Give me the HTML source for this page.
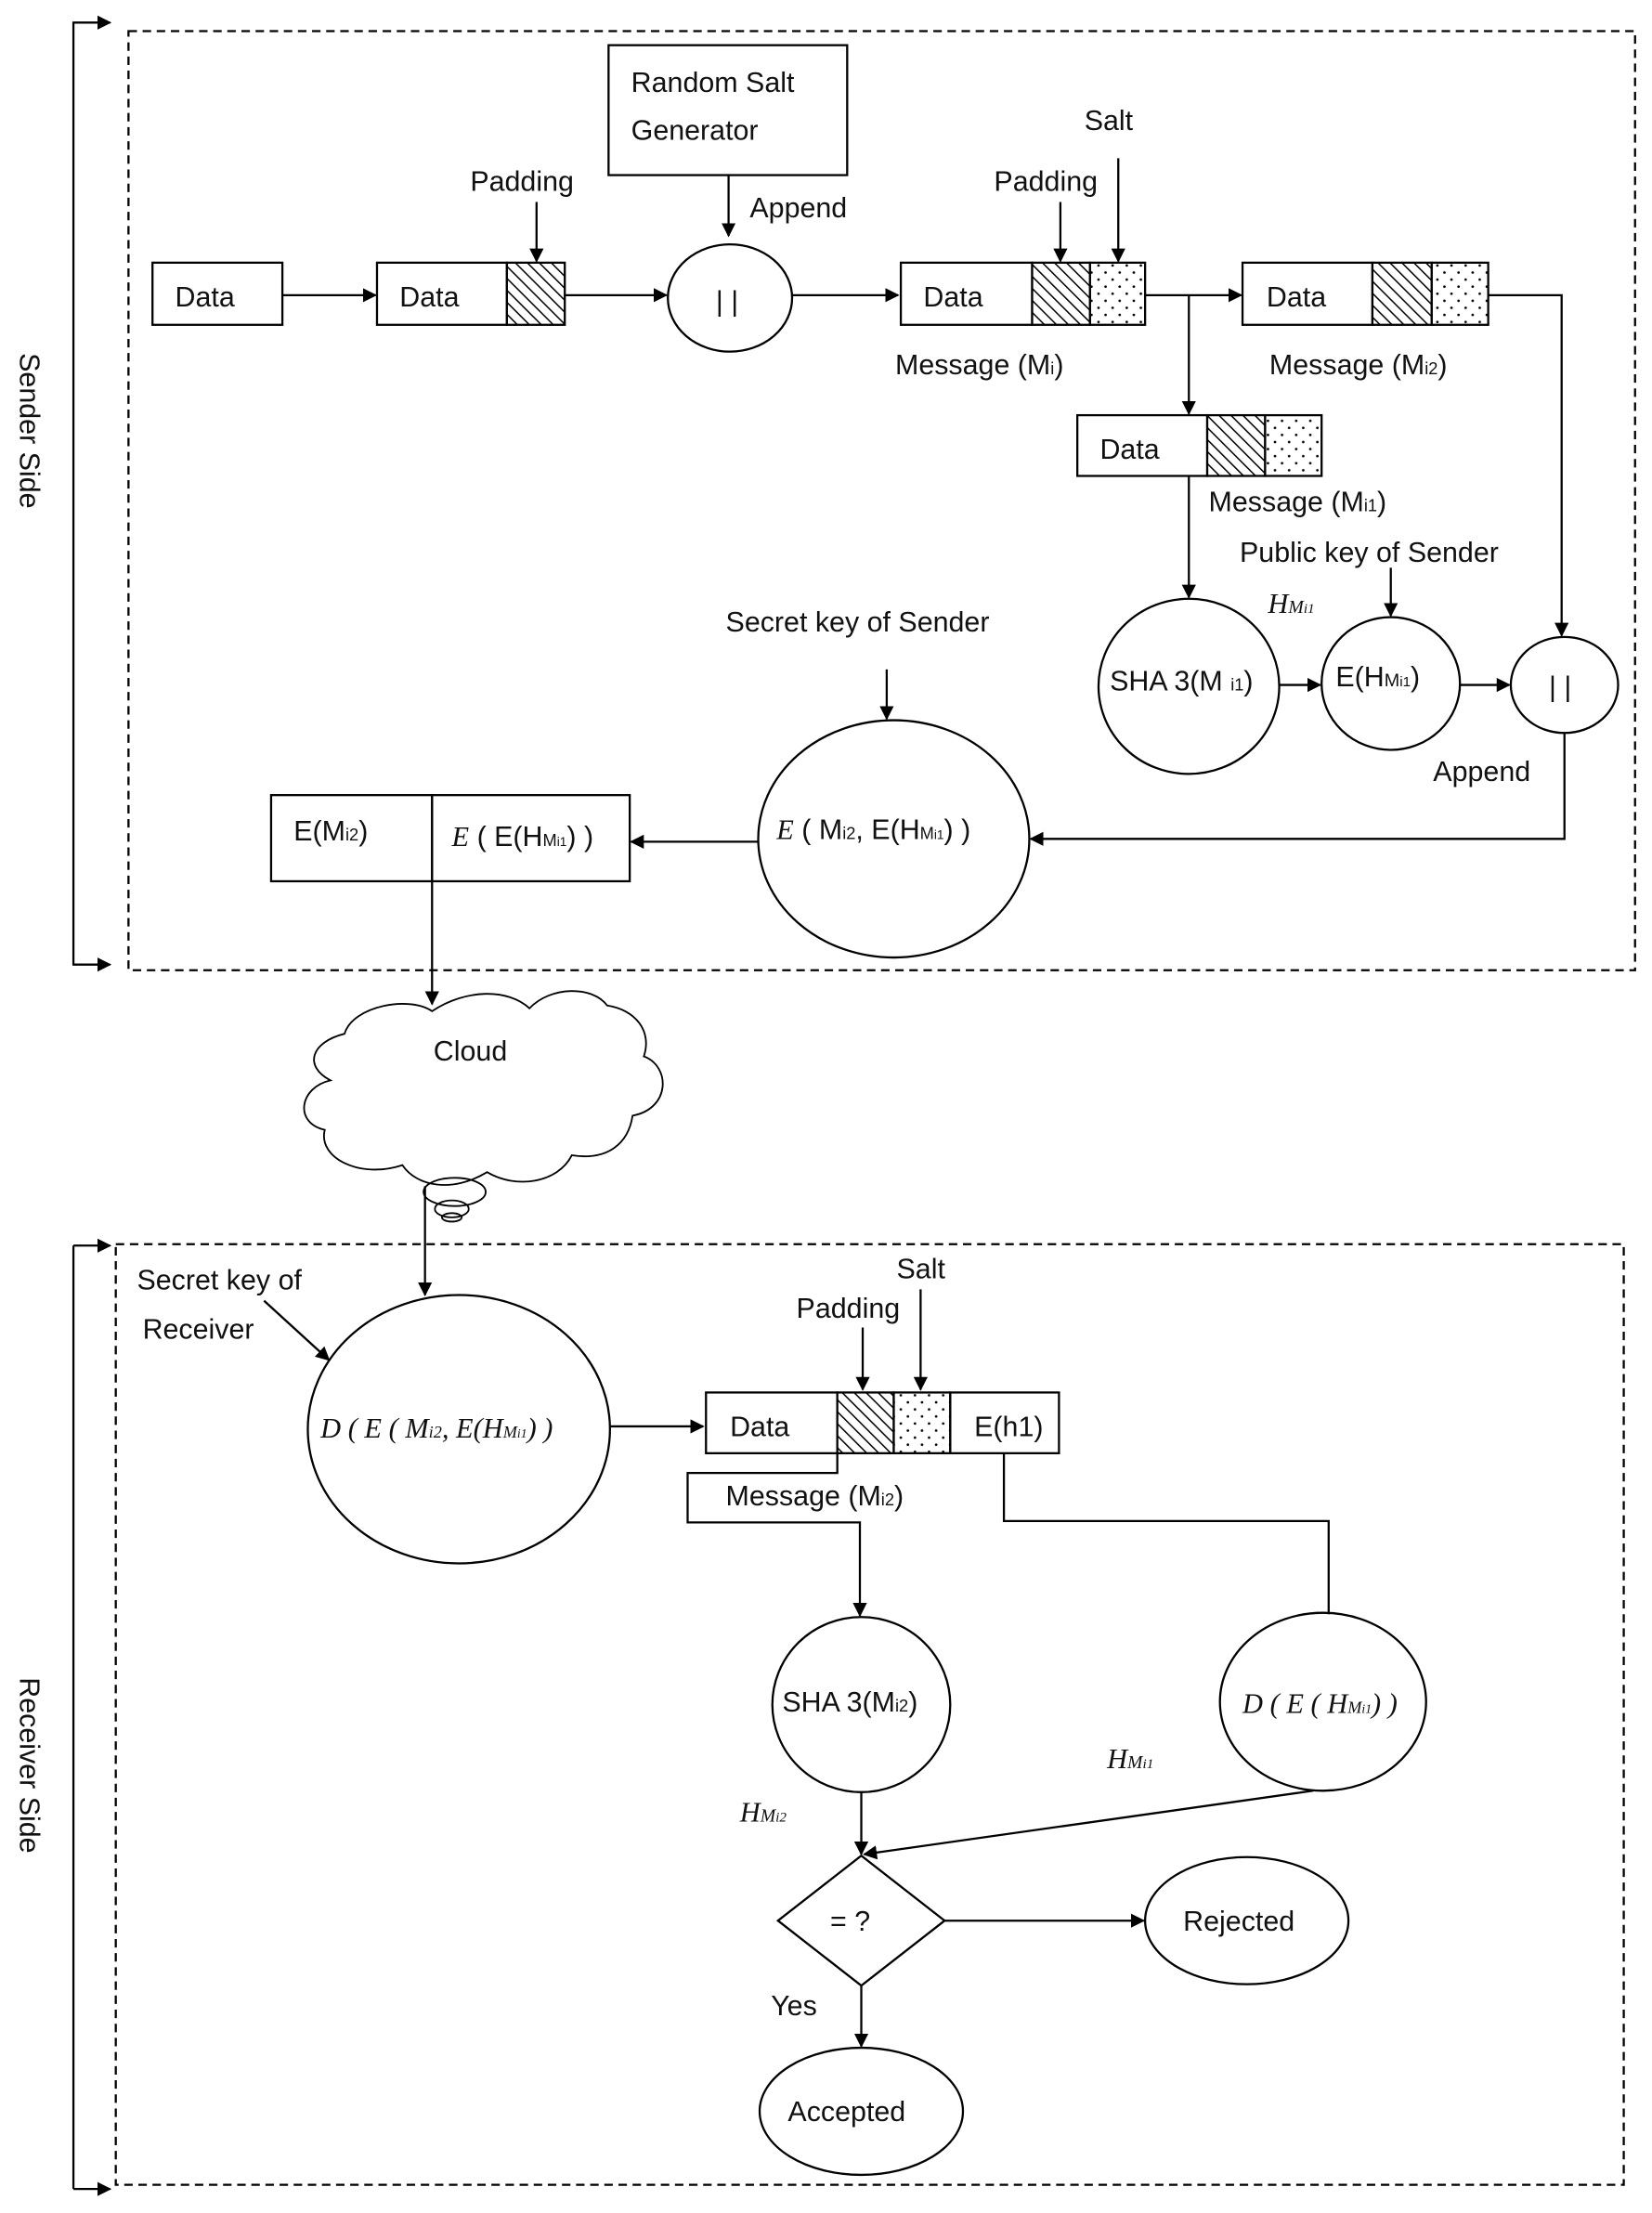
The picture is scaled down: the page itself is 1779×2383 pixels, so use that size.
<!DOCTYPE html>
<html><head><meta charset="utf-8"><style>
html,body{margin:0;padding:0;background:#fff}
svg{display:block}
text{font-family:"Liberation Sans",sans-serif;font-size:20px;fill:#111}
.m{font-family:"Liberation Serif",serif;font-style:italic}
</style></head><body>
<svg width="1779" height="2383" viewBox="0 0 1170 1567" preserveAspectRatio="none" xmlns="http://www.w3.org/2000/svg">
<defs>
<pattern id="h" width="6" height="6" patternUnits="userSpaceOnUse" patternTransform="rotate(-45)"><rect width="6" height="6" fill="#fff"/><line x1="0" y1="0" x2="0" y2="6" stroke="#000" stroke-width="2"/></pattern>
<pattern id="d" width="10" height="10" patternUnits="userSpaceOnUse"><rect width="10" height="10" fill="#fff"/><circle cx="3" cy="3" r="0.9" fill="#000"/><circle cx="8" cy="8" r="0.9" fill="#000"/></pattern>
<marker id="a" markerWidth="10" markerHeight="10" refX="9" refY="5" orient="auto" markerUnits="userSpaceOnUse"><path d="M0,0 L10,5 L0,10 z" fill="#000"/></marker>
</defs>
<g fill="none" stroke="#000" stroke-width="1.5">
<rect x="91" y="22" width="1067" height="665" stroke-dasharray="6,4"/>
<rect x="82" y="881" width="1068" height="666" stroke-dasharray="6,4"/>
<path d="M70,16 H52 V683 H70" />
<path d="M52,16 H78" marker-end="url(#a)"/><path d="M52,683 H78" marker-end="url(#a)"/>
<path d="M52,882 V1550"/><path d="M52,882 H78" marker-end="url(#a)"/><path d="M52,1550 H78" marker-end="url(#a)"/>
<rect x="108" y="186" width="92" height="44"/>
<rect x="267" y="186" width="92" height="44"/><rect x="359" y="186" width="41" height="44" fill="url(#h)"/>
<rect x="431" y="32" width="169" height="92"/>
<ellipse cx="517" cy="211" rx="44" ry="38"/>
<rect x="638" y="186" width="93" height="44"/><rect x="731" y="186" width="41" height="44" fill="url(#h)"/><rect x="772" y="186" width="39" height="44" fill="url(#d)"/>
<rect x="880" y="186" width="92" height="44"/><rect x="972" y="186" width="42" height="44" fill="url(#h)"/><rect x="1014" y="186" width="40" height="44" fill="url(#d)"/>
<rect x="763" y="294" width="92" height="43"/><rect x="855" y="294" width="41" height="43" fill="url(#h)"/><rect x="896" y="294" width="40" height="43" fill="url(#d)"/>
<ellipse cx="842" cy="486" rx="64" ry="62"/>
<ellipse cx="985" cy="484" rx="49" ry="47"/>
<ellipse cx="1108" cy="485" rx="38" ry="34"/>
<ellipse cx="633" cy="594" rx="96" ry="84"/>
<rect x="192" y="563" width="114" height="61"/><rect x="306" y="563" width="140" height="61"/>
<path d="M200,209 H266" marker-end="url(#a)"/>
<path d="M400,209 H472" marker-end="url(#a)"/>
<path d="M561,209 H636" marker-end="url(#a)"/>
<path d="M380,143 V185" marker-end="url(#a)"/>
<path d="M516,124 V167" marker-end="url(#a)"/>
<path d="M751,143 V185" marker-end="url(#a)"/>
<path d="M792,112 V185" marker-end="url(#a)"/>
<path d="M811,209 H879" marker-end="url(#a)"/>
<path d="M842,209 V293" marker-end="url(#a)"/>
<path d="M1054,209 H1106 V450" marker-end="url(#a)"/>
<path d="M842,337 V423" marker-end="url(#a)"/>
<path d="M906,485 H935" marker-end="url(#a)"/>
<path d="M985,402 V436" marker-end="url(#a)"/>
<path d="M1034,485 H1069" marker-end="url(#a)"/>
<path d="M628,474 V509" marker-end="url(#a)"/>
<path d="M1108,519 V594 H730" marker-end="url(#a)"/>
<path d="M537,596 H447" marker-end="url(#a)"/>
<path d="M306,624 V711" marker-end="url(#a)"/>
<path d="M306,716 C330,700 360,700 375,714 C390,698 420,698 430,712 C450,715 462,730 456,748 C475,755 475,785 448,790 C445,810 430,822 405,818 C395,838 365,842 345,830 C320,845 295,840 285,825 C255,835 225,820 230,800 C208,795 212,770 234,765 C215,755 220,738 244,732 C250,712 290,705 306,716 Z" stroke-width="1.2"/>
<ellipse cx="322" cy="844" rx="22" ry="10" stroke-width="1.2"/><ellipse cx="320" cy="856" rx="12" ry="6" stroke-width="1.2"/><ellipse cx="320" cy="862" rx="7" ry="3" stroke-width="1.2"/>
<path d="M301,840 V917" marker-end="url(#a)"/>
<ellipse cx="325" cy="1012" rx="107" ry="95"/>
<path d="M187,921 L233,963" marker-end="url(#a)"/>
<path d="M432,1010 H498" marker-end="url(#a)"/>
<rect x="500" y="986" width="93" height="43"/><rect x="593" y="986" width="40" height="43" fill="url(#h)"/><rect x="633" y="986" width="40" height="43" fill="url(#d)"/><rect x="673" y="986" width="77" height="43"/>
<path d="M611,940 V984" marker-end="url(#a)"/>
<path d="M652,913 V984" marker-end="url(#a)"/>
<path d="M593,1029 V1043 H487 V1078 H609 V1144" marker-end="url(#a)"/>
<path d="M711,1029 V1077 H941 V1143"/>
<ellipse cx="610" cy="1207" rx="63" ry="62"/>
<ellipse cx="937" cy="1205" rx="73" ry="63"/>
<path d="M610,1269 V1313" marker-end="url(#a)"/>
<path d="M930,1268 L612,1313" marker-end="url(#a)"/>
<path d="M551,1360 L610,1314 L669,1360 L610,1406 Z"/>
<path d="M669,1360 H810" marker-end="url(#a)"/>
<ellipse cx="883" cy="1360" rx="72" ry="45"/>
<path d="M610,1406 V1449" marker-end="url(#a)"/>
<ellipse cx="610" cy="1495" rx="72" ry="45"/>
</g>
<text transform="translate(14,305) rotate(90)" text-anchor="middle">Sender Side</text>
<text transform="translate(14,1250) rotate(90)" text-anchor="middle">Receiver Side</text>
<text x="124" y="217">Data</text>
<text x="283" y="217">Data</text>
<text x="333" y="135">Padding</text>
<text x="447" y="65">Random Salt</text>
<text x="447" y="99">Generator</text>
<text x="531" y="154">Append</text>
<text x="507" y="220">| |</text>
<text x="654" y="217">Data</text>
<text x="704" y="135">Padding</text>
<text x="768" y="92">Salt</text>
<text x="634" y="265">Message (M<tspan font-size="12">i</tspan>)</text>
<text x="897" y="217">Data</text>
<text x="899" y="265">Message (M<tspan font-size="12">i2</tspan>)</text>
<text x="779" y="325">Data</text>
<text x="856" y="362">Message (M<tspan font-size="12">i1</tspan>)</text>
<text x="878" y="398">Public key of Sender</text>
<text x="514" y="447">Secret key of Sender</text>
<text x="786" y="489">SHA 3(M <tspan font-size="12">i1</tspan>)</text>
<text class="m" x="898" y="434">H<tspan font-size="13">M</tspan><tspan font-size="10">i1</tspan></text>
<text x="946" y="486" font-family="Liberation Serif">E(H<tspan font-size="13">M</tspan><tspan font-size="10">i1</tspan>)</text>
<text x="1097" y="493">| |</text>
<text x="1015" y="553">Append</text>
<text x="550" y="594" font-family="Liberation Serif"><tspan class="m">E</tspan> ( M<tspan font-size="12">i2</tspan>, E(H<tspan font-size="12">M</tspan><tspan font-size="9">i1</tspan>) )</text>
<text x="208" y="595">E(M<tspan font-size="12">i2</tspan>)</text>
<text x="320" y="599" font-family="Liberation Serif"><tspan class="m">E</tspan> ( E(H<tspan font-size="12">M</tspan><tspan font-size="9">i1</tspan>) )</text>
<text x="307" y="751">Cloud</text>
<text x="97" y="913">Secret key of</text>
<text x="101" y="948">Receiver</text>
<text x="227" y="1018" class="m" font-size="19">D ( E ( M<tspan font-size="12">i2</tspan>, E(H<tspan font-size="12">M</tspan><tspan font-size="9">i1</tspan>) )</text>
<text x="517" y="1017">Data</text>
<text x="690" y="1017">E(h1)</text>
<text x="564" y="933">Padding</text>
<text x="635" y="905">Salt</text>
<text x="514" y="1066">Message (M<tspan font-size="12">i2</tspan>)</text>
<text x="554" y="1212">SHA 3(M<tspan font-size="12">i2</tspan>)</text>
<text x="880" y="1213" class="m" font-size="19">D ( E ( H<tspan font-size="12">M</tspan><tspan font-size="9">i1</tspan>) )</text>
<text class="m" x="784" y="1252">H<tspan font-size="13">M</tspan><tspan font-size="10">i1</tspan></text>
<text class="m" x="524" y="1290">H<tspan font-size="13">M</tspan><tspan font-size="10">i2</tspan></text>
<text x="588" y="1367">= ?</text>
<text x="838" y="1367">Rejected</text>
<text x="546" y="1427">Yes</text>
<text x="558" y="1502">Accepted</text>
</svg>
</body></html>
